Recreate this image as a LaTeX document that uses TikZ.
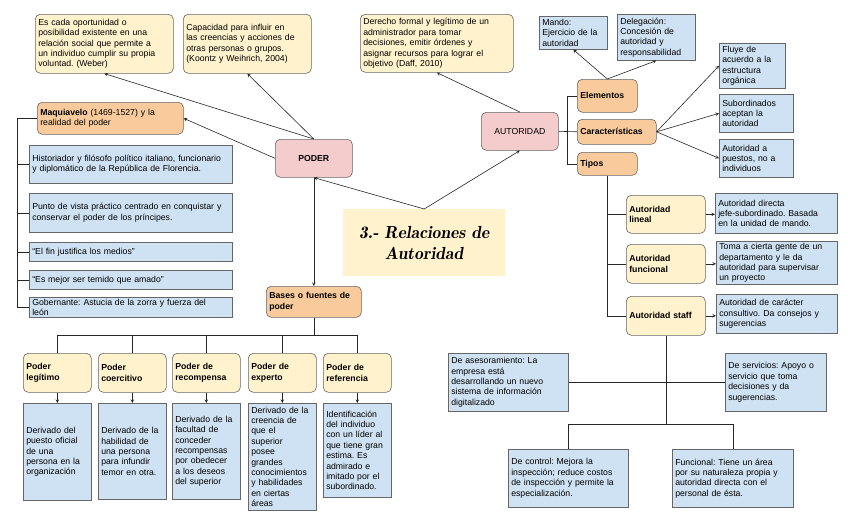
\documentclass[tikz,border=0pt]{standalone}
\usepackage{fontspec}
\setmainfont{Liberation Sans}
\usepackage{tikz}
\frenchspacing

\definecolor{crema}{HTML}{FFF2CC}
\definecolor{celeste}{HTML}{CFE2F3}
\definecolor{naranja}{HTML}{F9CB9C}
\definecolor{rosa}{HTML}{F4CCCC}
\definecolor{borde}{HTML}{666666}

\begin{document}
\begin{tikzpicture}[x=1pt, y=-1pt, >=stealth,
    caja/.style={draw=borde, line width=0.6pt, anchor=north west, inner xsep=3pt, inner ysep=2pt, align=left, font=\fontsize{8.7}{10.4}\selectfont},
    sz/.style 2 args={minimum width=#1pt, minimum height=#2pt, text width=#1pt-6pt},
    nota/.style={caja, fill=crema, rounded corners=5pt},
    dato/.style={caja, fill=celeste},
    tema/.style={caja, fill=naranja, rounded corners=5pt, font=\fontsize{8.7}{10.4}\selectfont\bfseries},
    tipo/.style={caja, fill=crema, rounded corners=5pt, font=\fontsize{8.7}{10.4}\selectfont\bfseries},
    eje/.style={caja, fill=rosa, rounded corners=5pt, align=center},
    linea/.style={line width=0.6pt, black!85}]
\useasboundingbox (0,0) rectangle (848,522);

% definiciones
\node[nota, sz={138}{59}] (weber) at (35,14) {Es cada oportunidad o\\ posibilidad existente en una\\ relación social que permite a\\ un individuo cumplir su propia\\ voluntad. (Weber)};
\node[nota, sz={128}{59}] (koontz) at (183,14) {Capacidad para influir en\\ las creencias y acciones de\\ otras personas o grupos.\\ (Koontz y Weihrich, 2004)};
\node[nota, sz={153}{58}] (daff) at (360,14) {Derecho formal y legítimo de un\\ administrador para tomar\\ decisiones, emitir órdenes y\\ asignar recursos para lograr el\\ objetivo (Daff, 2010)};

% centro
\node[eje, sz={77}{38}, font=\fontsize{8.7}{10.4}\selectfont\bfseries] (poder) at (275,139) {PODER};
\node[eje, sz={77}{38}] (autoridad) at (481,112) {AUTORIDAD};
\node[fill=crema, anchor=north west, minimum width=162pt, minimum height=67pt, align=center,
      font=\fontsize{17.5}{21}\fontfamily{lmr}\bfseries\itshape\selectfont] (titulo) at (343,209) {3.- Relaciones de\\ Autoridad};

% Maquiavelo
\node[tema, sz={146}{32}, font=\fontsize{8.7}{10.4}\selectfont] (maquiavelo) at (37,102) {\textbf{Maquiavelo} (1469-1527) y la\\ realidad del poder};
\node[dato, sz={203}{38}] (historiador) at (29,145) {Historiador y filósofo político italiano, funcionario\\ y diplomático de la República de Florencia.};
\node[dato, sz={203}{39}] (punto) at (29,193) {Punto de vista práctico centrado en conquistar y\\ conservar el poder de los príncipes.};
\node[dato, sz={203}{19}] (elfin) at (29,242) {“El fin justifica los medios”};
\node[dato, sz={203}{19}] (esmejor) at (29,270) {“Es mejor ser temido que amado”};
\node[dato, sz={203}{20}, inner ysep=0pt] (gobernante) at (29,297) {Gobernante: Astucia de la zorra y fuerza del\\ león};

% bases del poder
\node[tema, sz={95}{31}] (bases) at (266,286) {Bases o fuentes de\\ poder};
\node[tipo, sz={68}{39}] (legitimo) at (23,353) {Poder\\ legítimo};
\node[tipo, sz={68}{39}] (coercitivo) at (98,353) {Poder\\ coercitivo};
\node[tipo, sz={68}{39}] (recompensa) at (172,353) {Poder de\\ recompensa};
\node[tipo, sz={68}{39}] (experto) at (248,353) {Poder de\\ experto};
\node[tipo, sz={68}{39}] (referencia) at (323,353) {Poder de\\ referencia};

\node[dato, sz={68}{97}] (legitimo-txt) at (23,403) {Derivado del\\ puesto oficial\\ de una\\ persona en la\\ organización};
\node[dato, sz={68}{96}] (coercitivo-txt) at (98,403) {Derivado de la\\ habilidad de\\ una persona\\ para infundir\\ temor en otra.};
\node[dato, sz={68}{96}] (recompensa-txt) at (172,403) {Derivado de la\\ facultad de\\ conceder\\ recompensas\\ por obedecer\\ a los deseos\\ del superior};
\node[dato, sz={68}{107}, inner ysep=1pt] (experto-txt) at (248,403) {Derivado de la\\ creencia de\\ que el\\ superior\\ posee\\ grandes\\ conocimientos\\ y habilidades\\ en ciertas\\ áreas};
\node[dato, sz={68}{94}] (referencia-txt) at (323,403) {Identificación\\ del individuo\\ con un líder al\\ que tiene gran\\ estima. Es\\ admirado e\\ imitado por el\\ subordinado.};

% autoridad
\node[dato, sz={68}{33}, inner ysep=1pt] (mando) at (539,16) {Mando:\\ Ejercicio de la\\ autoridad};
\node[dato, sz={78}{46}] (delegacion) at (617,14) {Delegación:\\ Concesión de\\ autoridad y\\ responsabilidad};
\node[tema, sz={60}{33}] (elementos) at (577,79) {Elementos};
\node[tema, sz={79}{25}] (caract) at (577,119) {Características};
\node[tema, sz={60}{23}] (tipos) at (577,152) {Tipos};
\node[dato, sz={66}{45}] (fluye) at (719,43) {Fluye de\\ acuerdo a la\\ estructura\\ orgánica};
\node[dato, sz={74}{38}] (subordinados) at (719,94) {Subordinados\\ aceptan la\\ autoridad};
\node[dato, sz={74}{38}] (puestos) at (719,139) {Autoridad a\\ puestos, no a\\ individuos};

\node[tipo, sz={79}{38}] (lineal) at (626,195) {Autoridad\\ lineal};
\node[tipo, sz={79}{39}] (funcional) at (626,244) {Autoridad\\ funcional};
\node[tipo, sz={79}{39}] (staff) at (626,296) {Autoridad staff};
\node[dato, sz={122}{40}] (lineal-txt) at (715,193) {Autoridad directa\\ jefe-subordinado. Basada\\ en la unidad de mando.};
\node[dato, sz={121}{43}] (funcional-txt) at (716,241) {Toma a cierta gente de un\\ departamento y le da\\ autoridad para supervisar\\ un proyecto};
\node[dato, sz={121}{39}] (staff-txt) at (716,294) {Autoridad de carácter\\ consultivo. Da consejos y\\ sugerencias};

\node[dato, sz={120}{58}] (asesoramiento) at (448,353) {De asesoramiento: La\\ empresa está\\ desarrollando un nuevo\\ sistema de información\\ digitalizado};
\node[dato, sz={101}{58}] (servicios) at (725,353) {De servicios: Apoyo o\\ servicio que toma\\ decisiones y da\\ sugerencias.};
\node[dato, sz={120}{58}] (control) at (508,449) {De control: Mejora la\\ inspección; reduce costos\\ de inspección y permite la\\ especialización.};
\node[dato, sz={121}{58}] (funcional2) at (672,449) {Funcional: Tiene un área\\ por su naturaleza propia y\\ autoridad directa con el\\ personal de ésta.};

% conectores
\begin{scope}[linea]
\draw[->] (poder.north) -- (weber.south);
\draw[->] (poder.north) -- (koontz.south);
\draw[->] (poder.west) -- (maquiavelo.east);
\draw[->] (poder.south) -- (bases.north);
\draw[->] (titulo.north) -- (poder.south);
\draw[->] (titulo.north) -- (autoridad.south);
\draw[->] (autoridad.north) -- (daff.south);

\draw (maquiavelo.west) -- ++(-20,0) |- (gobernante.west);
\foreach \n in {historiador, punto, elfin, esmejor}
  \draw (\n.west) -- ++(-12,0);

\draw (bases.south) -- ++(0,18) coordinate (bj);
\draw (legitimo.north) |- (bj) -| (referencia.north);
\foreach \n in {coercitivo, recompensa, experto}
  \draw (\n.north) -- (\n.north |- bj);
\foreach \n in {legitimo, coercitivo, recompensa, experto, referencia}
  \draw[->] (\n.south) -- (\n.south |- \n-txt.north);

\draw (autoridad.east) -- (caract.west);
\draw (elementos.west) -- ++(-10,0) |- (tipos.west);
\draw[->] (elementos.north) -- (mando.south);
\draw[->] (elementos.north) -- (delegacion.south);
\foreach \n in {fluye, subordinados, puestos}
  \draw[->] (caract.east) -- (\n.west);

\draw (tipos.south) |- (staff.west);
\foreach \n in {lineal, funcional}
  \draw (\n.west) -- (\n.west -| tipos.south);
\foreach \n in {lineal, funcional, staff}
  \draw[->] (\n.east) -- (\n.east -| \n-txt.west);

\draw (staff.south) -- ++(0,89) coordinate (sj);
\draw (asesoramiento.east) -- (servicios.west);
\draw (control.north) |- (sj) -| (funcional2.north);
\end{scope}
\end{tikzpicture}
\end{document}
